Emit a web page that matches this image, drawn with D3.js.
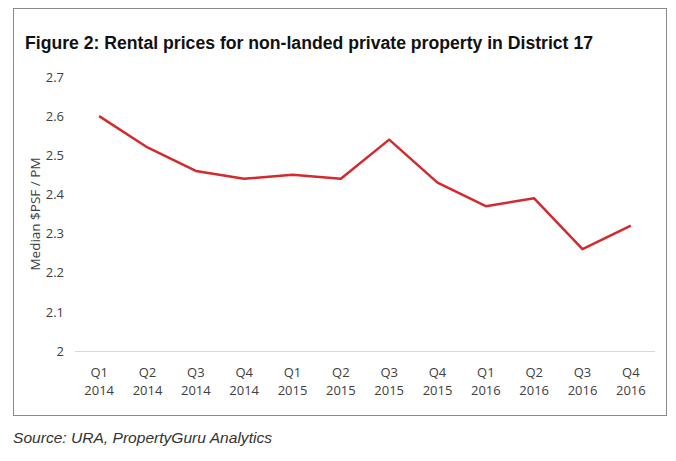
<!DOCTYPE html>
<html><head><meta charset="utf-8">
<script src="https://cdn.jsdelivr.net/npm/d3@7"></script>
<style>body{margin:0;background:#fff;}svg{display:block;}</style>
</head><body>
<script>
const quarters = ["Q1","Q2","Q3","Q4","Q1","Q2","Q3","Q4","Q1","Q2","Q3","Q4"];
const years = ["2014","2014","2014","2014","2015","2015","2015","2015","2016","2016","2016","2016"];
const values = [2.60,2.52,2.46,2.44,2.45,2.44,2.54,2.43,2.37,2.39,2.26,2.32];
const yTicks = [2,2.1,2.2,2.3,2.4,2.5,2.6,2.7];
const title = "Figure 2: Rental prices for non-landed private property in District 17";
const yLabel = "Median $PSF / PM";
const source = "Source: URA, PropertyGuru Analytics";

const W=676,H=461;
const svg=d3.select("body").append("svg").attr("width",W).attr("height",H);
svg.append("rect").attr("x",13.5).attr("y",8.5).attr("width",653).attr("height",407)
  .attr("fill","none").attr("stroke","#8a8a8a").attr("stroke-width",1);
svg.append("text").attr("x",25).attr("y",49).text(title)
  .attr("font-family","Liberation Sans, Arial, sans-serif").attr("font-weight","bold")
  .attr("font-size",18).attr("fill","#111")
  .attr("textLength",568).attr("lengthAdjust","spacingAndGlyphs");

const idx=d3.range(values.length);
const x=d3.scaleBand().domain(idx).range([75,655]);
const y=d3.scaleLinear().domain([2,2.7]).range([351,77]);

svg.append("line").attr("x1",75).attr("x2",655).attr("y1",y(2)+0.5).attr("y2",y(2)+0.5)
  .attr("stroke","#d9d9d9");

const fontF="'Open Sans', 'DejaVu Sans', sans-serif";
const yAxis=svg.append("g").attr("transform","translate(64,0)")
  .call(d3.axisLeft(y).tickValues(yTicks).tickSize(0).tickPadding(0).tickFormat(d=>d3.format("")(d)));
yAxis.select(".domain").remove();
yAxis.selectAll("text").attr("font-family",fontF).attr("font-size",13).attr("fill","#404040").attr("dy","0.32em");

const xg=svg.append("g").attr("transform","translate(0,351)")
  .call(d3.axisBottom(x).tickSize(0).tickFormat(()=>""));
xg.select(".domain").remove();
xg.selectAll(".tick").each(function(d){
  const t=d3.select(this).select("text").attr("y",0).attr("dy",null)
    .attr("font-family",fontF).attr("font-size",13).attr("fill","#404040");
  t.append("tspan").attr("x",0).attr("y",26).text(quarters[d]);
  t.append("tspan").attr("x",0).attr("y",44).text(years[d]);
});

svg.append("text").attr("transform","translate(40,214) rotate(-90)")
  .attr("text-anchor","middle").text(yLabel)
  .attr("font-family",fontF).attr("font-size",13.5).attr("fill","#404040");

const line=d3.line().x((d,i)=>x(i)+x.bandwidth()/2).y(d=>y(d));
svg.append("path").datum(values).attr("d",line).attr("fill","none")
  .attr("stroke","#d42a2e").attr("stroke-width",2.5).attr("stroke-linejoin","round");

svg.append("text").attr("x",13).attr("y",443).text(source)
  .attr("font-family","Liberation Sans, Arial, sans-serif").attr("font-style","italic")
  .attr("font-size",15).attr("fill","#333")
  .attr("textLength",259).attr("lengthAdjust","spacingAndGlyphs");
</script>
</body></html>
